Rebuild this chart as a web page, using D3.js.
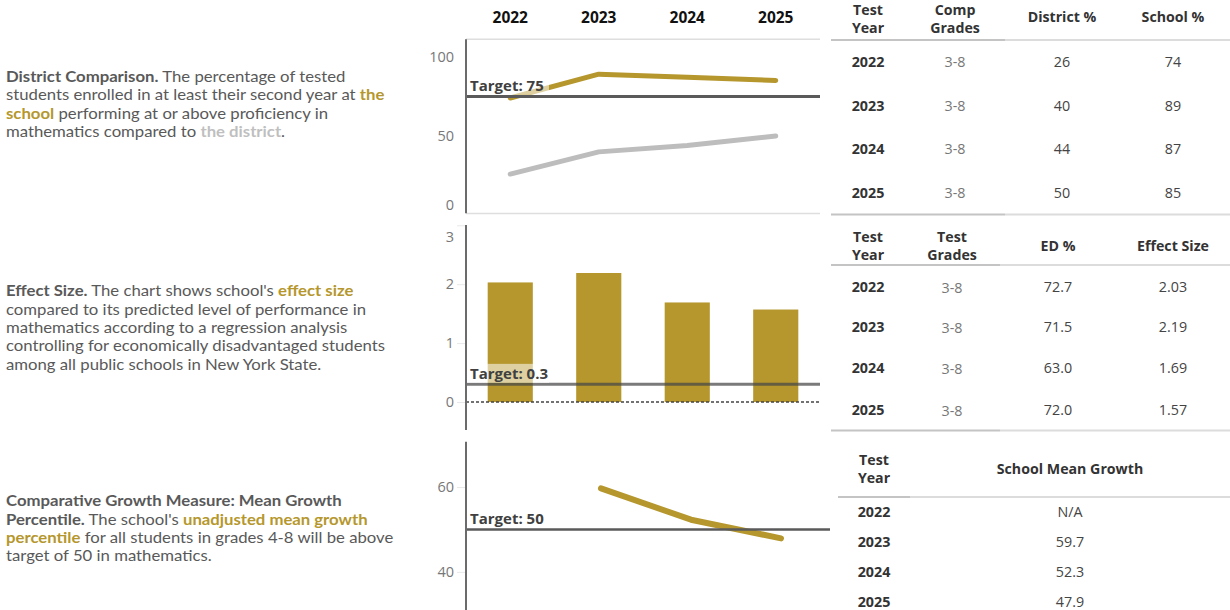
<!DOCTYPE html>
<html>
<head>
<meta charset="utf-8">
<script src="https://cdn.jsdelivr.net/npm/d3@7"></script>
<style>
  html, body { margin: 0; padding: 0; background: #fff; }
  svg { display: block; font-family: "Open Sans", "DejaVu Sans", sans-serif; }
</style>
</head>
<body>
<svg id="chart" width="1230" height="610"></svg>
<script>
// ---- data ----
const years = ["2022", "2023", "2024", "2025"];
const compGrades = ["3-8", "3-8", "3-8", "3-8"];
const districtPct = [26, 40, 44, 50];
const schoolPct = [74, 89, 87, 85];
const testGrades = ["3-8", "3-8", "3-8", "3-8"];
const edPct = [72.7, 71.5, 63.0, 72.0];
const effectSize = [2.03, 2.19, 1.69, 1.57];
const meanGrowth = [null, 59.7, 52.3, 47.9];

const proficiencyTarget = 75;
const effectTarget = 0.3;
const growthTarget = 50;

const proficiencyTicks = [0, 50, 100];
const effectTicks = [0, 1, 2, 3];
const growthTicks = [40, 60];

// ---- styling ----
const GOLD = "#b5972d";
const DIST = "#bdbdbd";
const TEXT = "#595959";
const AXIS = "#6b6b6b";

const svg = d3.select("#chart");

// ---- descriptive text blocks ----
const paragraphs = [
  { y: 82, lines: [
    [["District Comparison.", "b"], [" The percentage of tested", ""]],
    [["students enrolled in at least their second year at ", ""], ["the", "g"]],
    [["school", "g"], [" performing at or above proficiency in", ""]],
    [["mathematics compared to ", ""], ["the district", "d"], [".", ""]]
  ]},
  { y: 296.5, lines: [
    [["Effect Size.", "b"], [" The chart shows school's ", ""], ["effect size", "g"]],
    [["compared to its predicted level of performance in", ""]],
    [["mathematics according to a regression analysis", ""]],
    [["controlling for economically disadvantaged students", ""]],
    [["among all public schools in New York State.", ""]]
  ]},
  { y: 506.5, lines: [
    [["Comparative Growth Measure: Mean Growth", "b"]],
    [["Percentile.", "b"], [" The school's ", ""], ["unadjusted mean growth", "g"]],
    [["percentile", "g"], [" for all students in grades 4-8 will be above", ""]],
    [["target of 50 in mathematics.", ""]]
  ]}
];
const segFill = { "": TEXT, b: TEXT, g: GOLD, d: "#bfbfbf" };
// the text column is set slightly wide
const textCol = svg.append("g").attr("transform", "translate(6,0) scale(1.1,1)");
paragraphs.forEach(p => {
  p.lines.forEach((line, i) => {
    const t = textCol.append("text")
      .attr("x", 0).attr("y", p.y + i * 18.3)
      .attr("font-family", "Lato, sans-serif")
      .attr("font-size", 15.2).attr("fill", TEXT);
    line.forEach(([s, k]) => {
      t.append("tspan").text(s)
        .attr("fill", segFill[k])
        .attr("font-weight", k === "" ? 400 : 700);
    });
  });
});

// ---- shared helpers ----
function leftAxis(g, y, ticks, x0, top, bottom, tickLen) {
  const ax = g.append("g").attr("transform", `translate(${x0},0)`)
    .call(d3.axisLeft(y).tickValues(ticks).tickFormat(d3.format("d"))
      .tickSize(tickLen).tickSizeOuter(0).tickPadding(12 - tickLen));
  ax.select(".domain").remove();
  ax.selectAll(".tick line").attr("stroke", "#e8e8e8").attr("stroke-width", 1);
  ax.selectAll(".tick text")
    .attr("fill", "#777").attr("font-size", 14.5)
    .attr("font-family", "\"Open Sans\", sans-serif")
    .attr("y", d => Math.max(top + 11.5, Math.min(bottom - 8, y(d))) - y(d));
  g.append("line").attr("x1", x0).attr("x2", x0).attr("y1", top).attr("y2", bottom)
    .attr("stroke", AXIS).attr("stroke-width", 2);
}

function targetMark(g, y0, x0, x1, label, stroke, width) {
  g.append("line").attr("x1", x0).attr("x2", x1).attr("y1", y0).attr("y2", y0)
    .attr("stroke", stroke).attr("stroke-width", width);
  g.append("rect").attr("x", x0 + 1).attr("y", y0 - 20.5).attr("width", 82).attr("height", 19)
    .attr("fill", "#fff").attr("fill-opacity", 0.55);
  g.append("text").attr("x", x0 + 4).attr("y", y0 - 5.5)
    .attr("font-size", 15).attr("font-weight", 700).attr("fill", "#404040")
    .text(label);
}

const X0 = 466;

// ---- panel 1: district comparison ----
const p1 = svg.append("g");
const x1 = d3.scaleBand().domain(years).range([X0, 820]);
const y1 = d3.scaleLinear().domain([1.26, 111]).range([213.3, 39.3]);

svg.append("g").selectAll("text").data(years).join("text")
  .attr("x", d => x1(d) + x1.bandwidth() / 2).attr("y", 22.5)
  .attr("text-anchor", "middle").attr("font-size", 15.5).attr("font-weight", 700).attr("fill", "#111")
  .text(d => d);

p1.append("line").attr("x1", X0).attr("x2", 820).attr("y1", 39.3).attr("y2", 39.3)
  .attr("stroke", "#dedede").attr("stroke-width", 1.5);
p1.append("line").attr("x1", X0).attr("x2", 820).attr("y1", 213.5).attr("y2", 213.5)
  .attr("stroke", "#dedede").attr("stroke-width", 1.5);

const line1 = d3.line().x((d, i) => x1(years[i]) + x1.bandwidth() / 2).y(d => y1(d));
p1.append("path").datum(districtPct).attr("d", line1)
  .attr("fill", "none").attr("stroke", DIST).attr("stroke-width", 5)
  .attr("stroke-linecap", "round").attr("stroke-linejoin", "round");
p1.append("path").datum(schoolPct).attr("d", line1)
  .attr("fill", "none").attr("stroke", GOLD).attr("stroke-width", 5)
  .attr("stroke-linecap", "round").attr("stroke-linejoin", "round");
targetMark(p1, y1(proficiencyTarget), X0, 820, `Target: ${proficiencyTarget}`, "#5a5a5a", 3);
leftAxis(p1, y1, proficiencyTicks, X0, 39.3, 213.3, 0);

// ---- panel 2: effect size ----
const p2 = svg.append("g");
const x2 = d3.scaleBand().domain(years).range([X0, 820]).paddingInner(0.49).paddingOuter(0.245);
const y2 = d3.scaleLinear().domain([-0.475, 3.005]).range([430, 225]);

p2.selectAll("rect.bar").data(effectSize).join("rect").attr("class", "bar")
  .attr("x", (d, i) => x2(years[i])).attr("width", x2.bandwidth())
  .attr("y", d => y2(d)).attr("height", d => y2(0) - y2(d))
  .attr("fill", GOLD);
p2.append("line").attr("x1", X0).attr("x2", 820).attr("y1", y2(0)).attr("y2", y2(0))
  .attr("stroke", "#444").attr("stroke-width", 1.3).attr("stroke-dasharray", "3,2");
targetMark(p2, y2(effectTarget), X0, 820, `Target: ${effectTarget}`, "rgba(70,70,70,0.72)", 3);
leftAxis(p2, y2, effectTicks, X0, 225, 430, 9);

// ---- panel 3: mean growth percentile ----
const p3 = svg.append("g");
const x3 = d3.scaleBand().domain(years).range([X0, 826]);
const y3 = d3.scaleLinear().domain([31, 70.7]).range([610, 441.7]);
const line3 = d3.line()
  .defined(d => d !== null)
  .x((d, i) => x3(years[i]) + x3.bandwidth() / 2).y(d => y3(d));
p3.append("path").datum(meanGrowth).attr("d", line3)
  .attr("fill", "none").attr("stroke", GOLD).attr("stroke-width", 6)
  .attr("stroke-linecap", "round").attr("stroke-linejoin", "round");
targetMark(p3, y3(growthTarget), X0, 830, `Target: ${growthTarget}`, "#5a5a5a", 2.5);
leftAxis(p3, y3, growthTicks, X0, 441.7, 612, 9);

// ---- tables ----
function headerCell(g, x, yc, lines, firstBase) {
  const t = g.append("text").attr("x", x).attr("text-anchor", "middle")
    .attr("font-size", 14.2).attr("font-weight", 700).attr("fill", "#333");
  if (lines.length === 1) {
    t.attr("y", yc + 5).text(lines[0]);
  } else {
    const b0 = firstBase !== undefined ? firstBase : yc - 4;
    lines.forEach((s, i) => t.append("tspan").attr("x", x).attr("y", b0 + i * 18).text(s));
  }
}
function rule(g, xa, xm, xb, y) {
  g.append("line").attr("x1", xa).attr("x2", xm).attr("y1", y).attr("y2", y)
    .attr("stroke", "#c4c4c4").attr("stroke-width", 2);
  g.append("line").attr("x1", xm).attr("x2", xb).attr("y1", y).attr("y2", y)
    .attr("stroke", "#dcdcdc").attr("stroke-width", 2);
}
function bodyCell(g, x, y, s, weight, fill) {
  g.append("text").attr("x", x).attr("y", y + 5).attr("text-anchor", "middle")
    .attr("font-size", 14.3).attr("font-weight", weight).attr("fill", fill).text(s);
}

// table 1
const t1 = svg.append("g");
const t1Cols = [868, 955, 1062, 1173];
headerCell(t1, t1Cols[0], 17, ["Test", "Year"], 15.3);
headerCell(t1, t1Cols[1], 17, ["Comp", "Grades"], 15.3);
headerCell(t1, t1Cols[2], 17, ["District %"]);
headerCell(t1, t1Cols[3], 17, ["School %"]);
rule(t1, 831, 1005, 1230, 40);
const t1Rows = [62, 105.5, 148.5, 192.5];
years.forEach((yr, i) => {
  bodyCell(t1, t1Cols[0], t1Rows[i], yr, 700, "#333");
  bodyCell(t1, t1Cols[1], t1Rows[i], compGrades[i], 400, "#777");
  bodyCell(t1, t1Cols[2], t1Rows[i], districtPct[i], 400, "#444");
  bodyCell(t1, t1Cols[3], t1Rows[i], schoolPct[i], 400, "#444");
});
rule(t1, 831, 1005, 1230, 214.5);

// table 2
const t2 = svg.append("g");
const t2Cols = [868, 952, 1058, 1173];
headerCell(t2, t2Cols[0], 246, ["Test", "Year"]);
headerCell(t2, t2Cols[1], 246, ["Test", "Grades"]);
headerCell(t2, t2Cols[2], 246, ["ED %"]);
headerCell(t2, t2Cols[3], 246, ["Effect Size"]);
rule(t2, 831, 1000, 1230, 265);
const t2Rows = [287, 327, 368, 409.5];
years.forEach((yr, i) => {
  bodyCell(t2, t2Cols[0], t2Rows[i], yr, 700, "#333");
  bodyCell(t2, t2Cols[1], t2Rows[i] + 1, testGrades[i], 400, "#777");
  bodyCell(t2, t2Cols[2], t2Rows[i], edPct[i].toFixed(1), 400, "#444");
  bodyCell(t2, t2Cols[3], t2Rows[i], effectSize[i].toFixed(2), 400, "#444");
});
rule(t2, 831, 1000, 1230, 430.5);

// table 3
const t3 = svg.append("g");
const t3Cols = [874, 1070];
headerCell(t3, t3Cols[0], 469, ["Test", "Year"]);
headerCell(t3, t3Cols[1], 469, ["School Mean Growth"]);
rule(t3, 838, 910, 1230, 497);
const t3Rows = [512, 542, 572, 602];
years.forEach((yr, i) => {
  bodyCell(t3, t3Cols[0], t3Rows[i], yr, 700, "#333");
  bodyCell(t3, t3Cols[1], t3Rows[i], meanGrowth[i] === null ? "N/A" : meanGrowth[i].toFixed(1), 400, "#444");
});
</script>
</body>
</html>
